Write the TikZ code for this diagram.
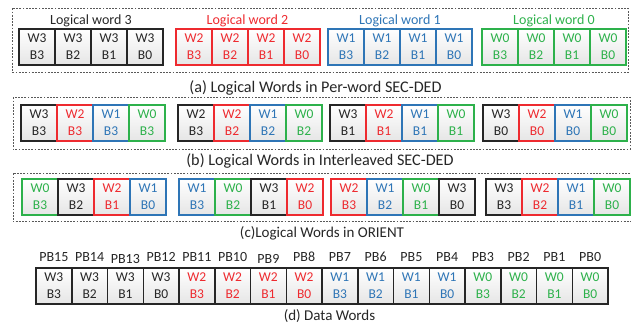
\documentclass[tikz,border=0pt]{standalone}
\usepackage{fontspec}
\setmainfont{Carlito}
\definecolor{cblk}{HTML}{262626}
\definecolor{cred}{HTML}{EE2A2F}
\definecolor{cblu}{HTML}{2E75B6}
\definecolor{cgrn}{HTML}{2DB14B}
\definecolor{cdash}{HTML}{595959}
\tikzset{
  cell/.style={rectangle, minimum width=36pt, minimum height=36pt,
    inner sep=0pt, outer sep=0pt, top color=white, bottom color=black!10, anchor=north west,
    font=\fontsize{13.5}{17}\selectfont, align=center},
  dcell/.style={cell, minimum width=35.75pt},
  wk/.style={draw=cblk, text=cblk, line width=1.6pt},
  wr/.style={draw=cred, text=cred, line width=1.3pt},
  wb/.style={draw=cblu, text=cblu, line width=1.3pt},
  wg/.style={draw=cgrn, text=cgrn, line width=1.3pt},
  tk/.style={text=cblk}, tr/.style={text=cred}, tb/.style={text=cblu}, tg/.style={text=cgrn},
  dframe/.style={draw=cblk, line width=1.5pt},
  dbox/.style={draw=cdash, line width=0.9pt, dash pattern=on 1.8pt off 1.4pt},
  lbl/.style={font=\fontsize{14}{16}\selectfont, inner sep=0pt},
  captxt/.style={font=\fontsize{16.2}{19}\selectfont, text=cblk, inner sep=0pt},
  captsm/.style={captxt, font=\fontsize{15}{18}\selectfont},
}
\begin{document}
\begin{tikzpicture}[x=1pt,y=-1pt]
\useasboundingbox (0,0) rectangle (631,324);

% (a) per-word layout
\draw[dbox] (12.5,8.3) rectangle (628,72.3);
\foreach \gx/\w/\s in {19/3/wk,176/2/wr,328/1/wb,482/0/wg}{
  \foreach \bb [count=\i from 0] in {3,2,1,0}{
    \node[cell,\s] (a\w b\bb) at (\gx+\i*36,29) {W\w\\B\bb};
    \draw[\s] (a\w b\bb.north west) rectangle (a\w b\bb.south east);
  }
}
\node[lbl,tk] (la3) at (91,21) {Logical word 3};
\node[lbl,tr] (la2) at (247.5,21) {Logical word 2};
\node[lbl,tb] (la1) at (400,21) {Logical word 1};
\node[lbl,tg] (la0) at (554,21) {Logical word 0};
\node[captxt] (capa) at (315.5,88) {(a) Logical Words in Per-word SEC-DED};

% (b) interleaved layout
\draw[dbox] (13,97.3) rectangle (630,149.3);
\foreach \x/\s/\w/\bb [count=\n] in {
  21/wk/3/3, 57/wr/2/3, 93/wb/1/3, 129/wg/0/3,
  178/wk/2/3, 214/wr/2/2, 250/wb/1/2, 286/wg/0/2,
  330/wk/3/1, 366/wr/2/1, 402/wb/1/1, 438/wg/0/1,
  483/wk/3/0, 519/wr/2/0, 555/wb/1/0, 591/wg/0/0}{
  \node[cell,\s] (b\n) at (\x,105) {W\w\\B\bb};
  \draw[\s] (b\n.north west) rectangle (b\n.south east);
}
\node[captxt] (capb) at (320,161) {(b) Logical Words in Interleaved SEC-DED};

% (c) ORIENT layout
\draw[dbox] (13,173.3) rectangle (633,221.8);
\foreach \x/\s/\w/\bb [count=\n] in {
  22/wg/0/3, 58/wk/3/2, 94/wr/2/1, 130/wb/1/0,
  179/wb/1/3, 215/wg/0/2, 251/wk/3/1, 287/wr/2/0,
  331/wr/2/3, 367/wb/1/2, 403/wg/0/1, 439/wk/3/0,
  486/wk/3/3, 522/wr/2/2, 558/wb/1/1, 594/wg/0/0}{
  \node[cell,\s] (c\n) at (\x,179) {W\w\\B\bb};
  \draw[\s] (c\n.north west) rectangle (c\n.south east);
}
\node[captsm] (capc) at (322,233) {(c)Logical Words in ORIENT};

% (d) data words
\foreach \s/\w/\bb [count=\n from 0] in {
  tk/3/3, tk/3/2, tk/3/1, tk/3/0, tr/2/3, tr/2/2, tr/2/1, tr/2/0,
  tb/1/3, tb/1/2, tb/1/1, tb/1/0, tg/0/3, tg/0/2, tg/0/1, tg/0/0}{
  \pgfmathtruncatemacro{\pb}{15-\n}
  \node[dcell,\s] (d\pb) at (36+\n*35.75,268) {W\w\\B\bb};
  \draw[dframe] (d\pb.north west) rectangle (d\pb.south east);
}
\foreach \pb in {15,14,12,11,10,8,7,6,5,4,3,2,1,0}
  \node[lbl,tk] (pl\pb) at ([yshift=11pt]d\pb.north) {PB\pb};
\foreach \pb in {13,9}
  \node[lbl,tk] (pl\pb) at ([yshift=9pt]d\pb.north) {PB\pb};
\node[captsm] (capd) at (329.5,315.8) {(d) Data Words};
\end{tikzpicture}
\end{document}
